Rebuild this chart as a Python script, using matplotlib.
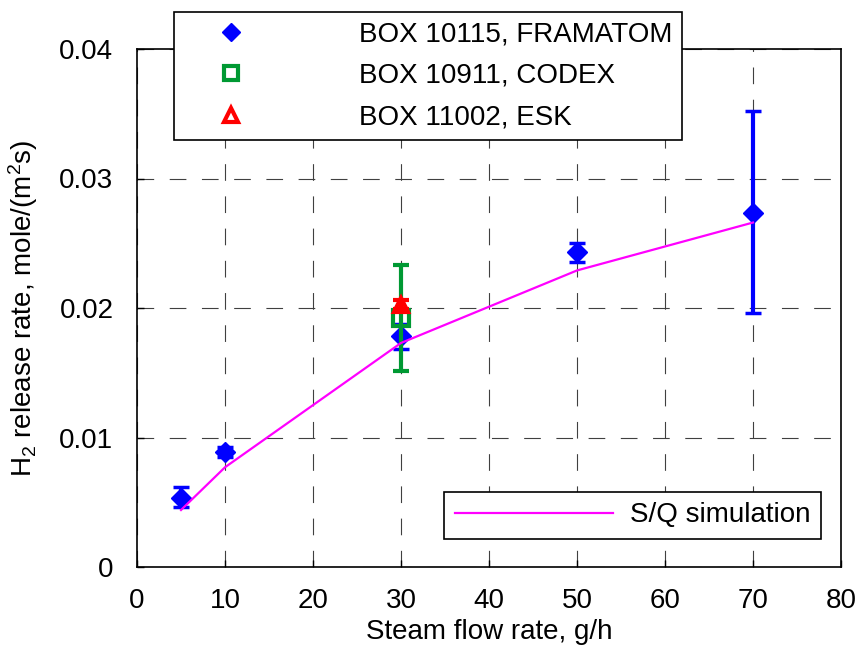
import numpy as np
import matplotlib
matplotlib.use('Agg')
import matplotlib.pyplot as plt
from matplotlib.lines import Line2D

plt.rcParams['font.family'] = ['Liberation Sans', 'DejaVu Sans']
plt.rcParams['mathtext.fontset'] = 'custom'
plt.rcParams['mathtext.rm'] = 'Liberation Sans'
plt.rcParams['mathtext.it'] = 'Liberation Sans'

# FRAMATOM series (BOX 10115)
fra_x = [5, 10, 30, 50, 70]
fra_y = [0.0053, 0.0089, 0.0178, 0.0243, 0.0273]
fra_lo = [0.0046, 0.0085, 0.0168, 0.02355, 0.0196]
fra_hi = [0.0062, 0.0093, 0.0188, 0.0250, 0.0352]

# CODEX series (BOX 10911)
cod_x = [30]
cod_y = [0.0192]
cod_lo = [0.0151]
cod_hi = [0.0233]

# ESK series (BOX 11002)
esk_x = [30]
esk_y = [0.0202]
esk_lo = [0.0199]
esk_hi = [0.0206]

# S/Q simulation
sim_x = [5, 10, 30, 50, 70]
sim_y = [0.0044, 0.0077, 0.0173, 0.0229, 0.0266]

blue = '#0000FF'
green = '#009933'
red = '#FF0000'
magenta = '#FF00FF'
fs = 20


def yerr(y, lo, hi):
    y = np.array(y)
    return [y - np.array(lo), np.array(hi) - y]


fig = plt.figure(figsize=(8.63, 6.46), dpi=100)
ax = fig.add_axes([137 / 863, 1 - 567 / 646, (841 - 137) / 863, (567 - 49) / 646])

ax.errorbar(fra_x, fra_y, yerr=yerr(fra_y, fra_lo, fra_hi), fmt='D', color=blue,
            ms=10, elinewidth=3, capsize=6, capthick=2.5, zorder=3)
ax.errorbar(cod_x, cod_y, yerr=yerr(cod_y, cod_lo, cod_hi), fmt='s', color=green,
            mfc='none', mec=green, mew=3, ms=11, elinewidth=3, capsize=6,
            capthick=2.5, zorder=4)
ax.errorbar(esk_x, esk_y, yerr=yerr(esk_y, esk_lo, esk_hi), fmt='^', color=red,
            mfc='none', mec=red, mew=3, ms=10, elinewidth=3, capsize=6,
            capthick=2.5, zorder=5)
ax.plot(sim_x, sim_y, color=magenta, lw=1.6, zorder=6)

ax.set_xlim(0, 80)
ax.set_ylim(0, 0.04)
ax.set_xticks(np.arange(0, 81, 10))
ax.set_yticks([0, 0.01, 0.02, 0.03, 0.04])
ax.set_yticklabels(['0', '0.01', '0.02', '0.03', '0.04'])
ax.tick_params(direction='in', length=5, labelsize=fs, width=1)
ax.tick_params(axis='x', pad=15)
ax.tick_params(axis='y', pad=17)
ax.grid(True, color='0.25', lw=0.8, linestyle=(0, (15, 14)))
ax.set_axisbelow(True)
for s in ax.spines.values():
    s.set_linewidth(1.2)

ax.set_xlabel('Steam flow rate, g/h', fontsize=fs, labelpad=4)
ax.set_ylabel('H$_2$ release rate, mole/(m$^2$s)', fontsize=fs, labelpad=14)

h1 = [Line2D([], [], ls='none', marker='D', ms=9, color=blue),
      Line2D([], [], ls='none', marker='s', ms=10, mfc='white', mec=green, mew=3),
      Line2D([], [], ls='none', marker='^', ms=10, mfc='white', mec=red, mew=3)]
leg1 = fig.legend(h1, ['BOX 10115, FRAMATOM', 'BOX 10911, CODEX', 'BOX 11002, ESK'],
                  loc='upper left', bbox_to_anchor=(174 / 863, 1 - 12 / 646),
                  borderaxespad=0, fontsize=fs, fancybox=False, framealpha=1,
                  edgecolor='black', handlelength=3.4, handletextpad=2.9,
                  labelspacing=0.55, borderpad=0.35)
leg1.get_frame().set_linewidth(1.2)

h2 = [Line2D([], [], color=magenta, lw=1.6)]
leg2 = ax.legend(h2, ['S/Q simulation'], loc='lower left',
                 bbox_to_anchor=(444 / 863, 1 - 539 / 646),
                 bbox_transform=fig.transFigure, borderaxespad=0, fontsize=fs,
                 fancybox=False, framealpha=1, edgecolor='black',
                 handlelength=5.7, handletextpad=0.6, borderpad=0.38)
leg2.get_frame().set_linewidth(1.2)

fig.savefig('out.png', dpi=100)
